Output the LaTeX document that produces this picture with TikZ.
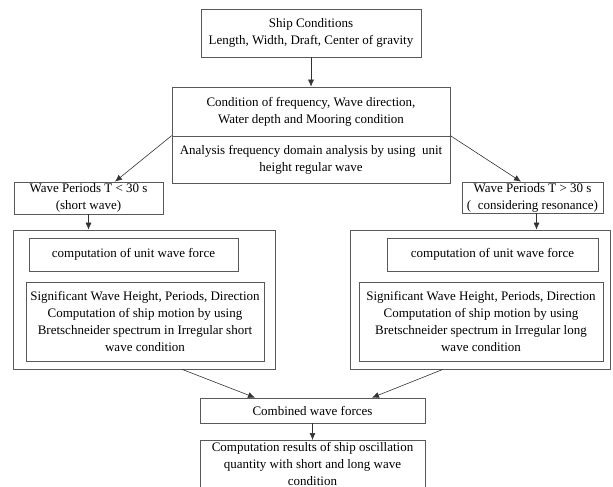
\documentclass[tikz,border=0pt]{standalone}
\usepackage{fontspec}
\setmainfont{Liberation Serif}
\usetikzlibrary{arrows.meta}

\tikzset{
	box/.style = {draw = black!65, line width = 0.7pt, align = center, inner sep = 0pt,
		font = \fontsize{13}{17}\selectfont},
	link/.style = {->, black!80, line width = 0.6pt}
}

\begin{document}
\begin{tikzpicture}[x = 1pt, y = -1pt, > = {Latex[length = 7pt, width = 6pt]}]

	\useasboundingbox (0, 0) rectangle (613, 487);
	\clip (0, 0) rectangle (613, 487);

	% Top of the chart

	\node [box, minimum width = 220pt, minimum height = 48pt] (ship) at (311, 33)
		{Ship Conditions\\Length, Width, Draft, Center of gravity};
	\node [box, minimum width = 278pt, minimum height = 49pt] (cond) at (311, 111.5)
		{Condition of frequency, Wave direction,\\Water depth and Mooring condition};
	\node [box, minimum width = 278pt, minimum height = 47pt] (anal) at (311, 159.5)
		{Analysis frequency domain analysis by using \ unit\\height regular wave};

	% Short and long wave branches

	\node [box, minimum width = 149pt, minimum height = 32pt] (short) at (88.5, 198)
		{Wave Periods T < 30 s\\(short wave)};
	\node [box, minimum width = 141pt, minimum height = 31pt] (long) at (532.5, 197.5)
		{Wave Periods T > 30 s\\( \ considering resonance)};

	\node [box, minimum width = 262pt, minimum height = 139pt] (outerL) at (144, 299.5) {};
	\node [box, minimum width = 209pt, minimum height = 33pt] (forceL) at (133.5, 254.5)
		{computation of unit wave force};
	\node [box, minimum width = 238pt, minimum height = 79pt] (specL) at (145, 321.5)
		{Significant Wave Height, Periods, Direction\\Computation of ship motion by using\\
		Bretschneider spectrum in Irregular short\\wave condition};

	\node [box, minimum width = 260pt, minimum height = 139pt] (outerR) at (480, 299.5) {};
	\node [box, minimum width = 211pt, minimum height = 33pt] (forceR) at (492.5, 254.5)
		{computation of unit wave force};
	\node [box, minimum width = 244pt, minimum height = 79pt] (specR) at (481, 321.5)
		{Significant Wave Height, Periods, Direction\\Computation of ship motion by using\\
		Bretschneider spectrum in Irregular long\\wave condition};

	% Results

	\node [box, minimum width = 225pt, minimum height = 25pt] (comb) at (312.5, 410.5)
		{Combined wave forces};
	\node [box, minimum width = 225pt, minimum height = 47pt, anchor = north] (result) at (312.5, 440)
		{Computation results of ship oscillation\\quantity with short and long wave\\condition};

	% Connectors

	\draw [link] (ship) -- (cond);
	\draw [link] (anal.north west) -- ([xshift = 26.5pt] short.north);
	\draw [link] (anal.north east) -- ([xshift = -11.5pt] long.north);
	\draw [link] (short.south) -- (short.south |- outerL.north);
	\draw [link] ([xshift = 4pt] long.south) -- ([xshift = 4pt] long.south |- outerR.north);
	\draw [link] ([xshift = 38pt] outerL.south) -- ([xshift = -57.5pt] comb.north);
	\draw [link] ([xshift = -37pt] outerR.south) -- ([xshift = 59.5pt] comb.north);
	\draw [link] (comb) -- (result);

\end{tikzpicture}
\end{document}
